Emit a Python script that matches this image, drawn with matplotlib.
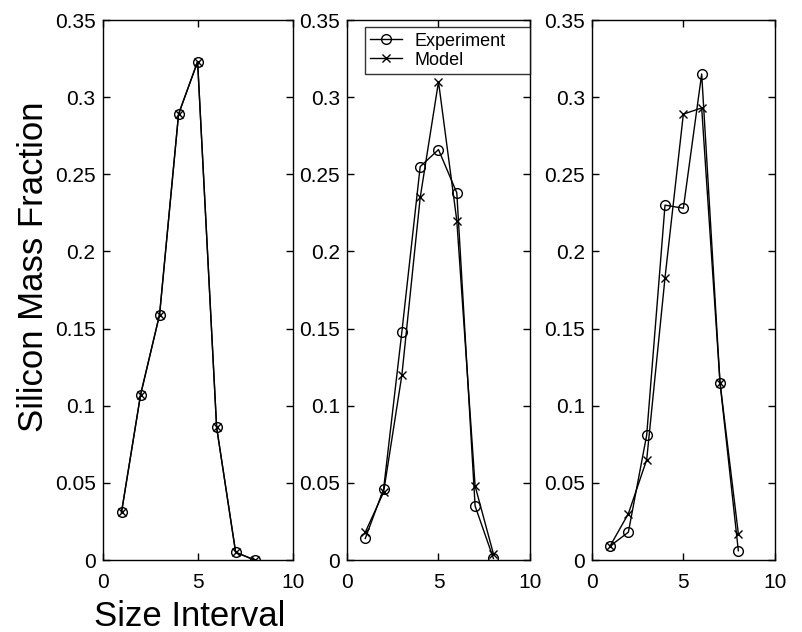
import matplotlib
matplotlib.use("Agg")
import matplotlib.pyplot as plt

plt.rcParams['font.family'] = ['Liberation Sans', 'DejaVu Sans']

size_interval = [1, 2, 3, 4, 5, 6, 7, 8]

# Panel 1: experiment and model coincide
exp_1 = [0.031, 0.107, 0.159, 0.289, 0.323, 0.086, 0.005, 0.0]
mod_1 = [0.031, 0.107, 0.159, 0.289, 0.323, 0.086, 0.005, 0.0]

# Panel 2
exp_2 = [0.014, 0.046, 0.148, 0.255, 0.266, 0.238, 0.035, 0.001]
mod_2 = [0.018, 0.044, 0.120, 0.235, 0.310, 0.220, 0.048, 0.004]

# Panel 3
exp_3 = [0.009, 0.018, 0.081, 0.230, 0.228, 0.315, 0.115, 0.006]
mod_3 = [0.009, 0.030, 0.065, 0.183, 0.289, 0.293, 0.115, 0.017]

x_ticks = [0, 5, 10]
x_tick_labels = ['0', '5', '10']
y_ticks = [0, 0.05, 0.1, 0.15, 0.2, 0.25, 0.3, 0.35]
y_tick_labels = ['0', '0.05', '0.1', '0.15', '0.2', '0.25', '0.3', '0.35']

W, H = 803, 632
fig = plt.figure(figsize=(W / 100, H / 100), dpi=100)

# axes boxes in pixels: (left, right)
boxes = [(102.5, 292.7), (347.0, 530.0), (591.7, 775.0)]
top_px, bottom_px = 20.0, 560.0

panels = [(exp_1, mod_1), (exp_2, mod_2), (exp_3, mod_3)]
axes = []
for (l, r), (e, m) in zip(boxes, panels):
    ax = fig.add_axes([l / W, 1 - bottom_px / H, (r - l) / W, (bottom_px - top_px) / H])
    ax.plot(size_interval, e, color='black', lw=1.0, marker='o', ms=7,
            mfc='none', mec='black', mew=1.0, label='Experiment')
    ax.plot(size_interval, m, color='black', lw=1.0, marker='x', ms=6,
            mec='black', mew=1.0, label='Model')
    ax.set_xlim(0, 10)
    ax.set_ylim(0, 0.35)
    ax.set_xticks(x_ticks)
    ax.set_xticklabels(x_tick_labels)
    ax.set_yticks(y_ticks)
    ax.set_yticklabels(y_tick_labels)
    ax.tick_params(direction='in', length=5, width=1.0, top=True, right=True,
                   labelsize=15, colors='black')
    ax.tick_params(axis='x', pad=9)
    ax.tick_params(axis='y', pad=5)
    for s in ax.spines.values():
        s.set_linewidth(1.0)
        s.set_color('black')
    axes.append(ax)

axes[0].set_xlabel('Size Interval', fontsize=25)
axes[0].xaxis.set_label_coords(0.46, -0.074)
axes[0].xaxis.label.set_va('top')
axes[0].set_ylabel('Silicon Mass Fraction', fontsize=25)
axes[0].yaxis.set_label_coords(-0.275, 0.543)

leg = axes[1].legend(loc='upper left', bbox_to_anchor=(0.098, 0.9865, 0.902, 0.0),
                     mode='expand', fontsize=13,
                     frameon=True, fancybox=False, edgecolor='black',
                     handlelength=1.75, handletextpad=0.7, borderpad=0.3,
                     labelspacing=0.1, borderaxespad=0.0)
leg.get_frame().set_linewidth(1.0)

fig.savefig('out.png', dpi=100)
